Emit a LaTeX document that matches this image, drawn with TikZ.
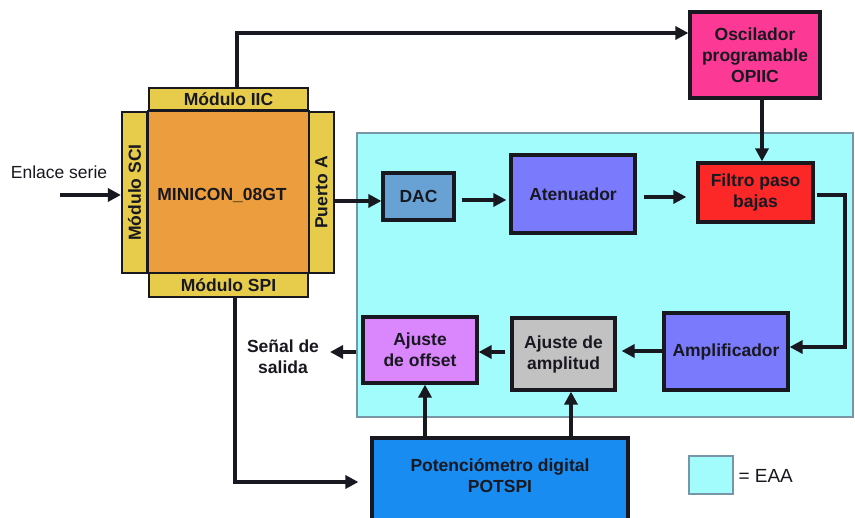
\documentclass[tikz,border=0pt]{standalone}
\usepackage{fontspec}
\setmainfont{Liberation Sans}
\usetikzlibrary{arrows.meta,shadows}

\definecolor{eaacyan}{RGB}{162,252,252}
\definecolor{eaaedge}{RGB}{120,150,165}
\definecolor{oscpink}{RGB}{252,58,150}
\definecolor{mcuorange}{RGB}{236,158,62}
\definecolor{modyellow}{RGB}{230,204,74}
\definecolor{dacblue}{RGB}{104,162,212}
\definecolor{periwinkle}{RGB}{122,122,252}
\definecolor{filtred}{RGB}{252,40,40}
\definecolor{ampgray}{RGB}{194,194,194}
\definecolor{offviolet}{RGB}{218,134,252}
\definecolor{potblue}{RGB}{24,140,240}
\definecolor{inkdark}{RGB}{24,24,32}

\tikzset{
  boldtext/.style={font=\bfseries\fontsize{17.5}{21}\selectfont, text=inkdark},
  blk/.style={draw=inkdark, line width=3.2pt, minimum width=#1, inner sep=0pt,
    boldtext, align=center,
    drop shadow={shadow xshift=1.5pt, shadow yshift=-2pt, opacity=0.3}},
  modbox/.style={draw=inkdark, line width=2.2pt, fill=modyellow, inner sep=0pt, boldtext},
  lbl/.style={boldtext, align=center},
  arr/.style={line width=3.2pt, draw=inkdark, -{Triangle[length=13pt,width=13pt]}}
}

\begin{document}
\begin{tikzpicture}[x=1pt,y=-1pt]
\clip (0,0) rectangle (855,518);
\fill[white] (0,0) rectangle (855,518);

% signal-conditioning area (EAA)
\node[draw=eaaedge, line width=1.4pt, fill=eaacyan, minimum width=496pt, minimum height=284pt, inner sep=0pt] (eaa) at (605,275) {};

% microcontroller with its peripheral modules
\node[modbox, minimum width=159pt, minimum height=22pt] (iic) at (228.5,99) {Módulo IIC};
\node[modbox, minimum width=159pt, minimum height=24pt] (spi) at (228.5,285) {Módulo SPI};
\node[modbox, minimum width=161pt, minimum height=25pt, rotate=90] (sci) at (134.5,192.5) {Módulo SCI};
\node[modbox, minimum width=161pt, minimum height=25pt, rotate=90] (pa) at (321.5,192.5) {Puerto A};
\node[draw=inkdark, line width=2.4pt, fill=mcuorange, minimum width=161pt, minimum height=162pt, inner sep=0pt] (mc) at (228.5,192) {};
\node[lbl] (mclabel) at (222,195) {MINICON\_08GT};

% processing blocks
\node[blk=130pt, minimum height=86pt, fill=oscpink] (osc) at (755,55) {Oscilador\\programable\\OPIIC};
\node[blk=71pt, minimum height=47pt, fill=dacblue] (dac) at (418.5,196.5) {DAC};
\node[blk=124pt, minimum height=78pt, fill=periwinkle] (aten) at (573,194) {Atenuador};
\node[blk=115pt, minimum height=59pt, fill=filtred] (filt) at (755.5,192.5) {Filtro paso\\bajas};
\node[blk=124pt, minimum height=77pt, fill=periwinkle] (amp) at (726,351.5) {Amplificador};
\node[blk=103pt, minimum height=72pt, fill=ampgray] (ampl) at (563.5,354) {Ajuste de\\amplitud};
\node[blk=114pt, minimum height=66pt, fill=offviolet] (offs) at (420,350) {Ajuste\\de offset};
\node[blk=256pt, minimum height=88pt, fill=potblue] (pot) at (500,482) {};
\node[lbl] (potlabel) at (500,476) {Potenciómetro digital\\POTSPI};

% free labels
\node[font=\fontsize{17.5}{20}\selectfont, text=inkdark] (enlace) at (59,172) {Enlace serie};
\node[lbl] (salida) at (283,357) {Señal de\\salida};

% legend
\node[draw=eaaedge, line width=1.4pt, fill=eaacyan, minimum width=44pt, minimum height=38pt, inner sep=0pt] (key) at (711,475) {};
\node[font=\fontsize{19}{20}\selectfont, text=inkdark, anchor=west] (keytext) at (735,476) {= EAA};

% connector routing points
\coordinate (inlink) at (60,195);
\coordinate (ctop) at (237,33);
\coordinate (cosc) at (762,0);
\coordinate (cpa) at (0,201);
\coordinate (cfr) at (845,195);
\coordinate (cfd) at (845,347);
\coordinate (cout) at (330,352);
\coordinate (cspi) at (235,482);

% connectors
\draw[arr] (inlink) -- (inlink -| sci.north);
\draw[arr] (iic.north -| ctop) -- (ctop) -- (osc.west |- ctop);
\draw[arr] (osc.south -| cosc) -- (filt.north -| cosc);
\draw[arr] (pa.south |- cpa) -- (dac.west |- cpa);
\draw[arr, shorten <=6pt, shorten >=3pt] (dac.east |- 0,200) -- (aten.west |- 0,200);
\draw[arr, shorten <=7pt, shorten >=10pt] (aten.east |- 0,197) -- (filt.west |- 0,197);
\draw[arr, shorten <=2pt] (filt.east |- cfr) -- (cfr) -- (cfd) -- (amp.east |- cfd);
\draw[arr, shorten >=5pt] (amp.west |- 0,351) -- (ampl.east |- 0,351);
\draw[arr, shorten <=5pt] (ampl.west |- 0,352) -- (offs.east |- 0,352);
\draw[arr] (eaa.west |- cout) -- (cout);
\draw[arr] (pot.north -| 425,0) -- (offs.south -| 425,0);
\draw[arr] (pot.north -| 571,0) -- (ampl.south -| 571,0);
\draw[arr, shorten >=12pt] (spi.south -| cspi) -- (cspi) -- (pot.west |- cspi);
\end{tikzpicture}
\end{document}
